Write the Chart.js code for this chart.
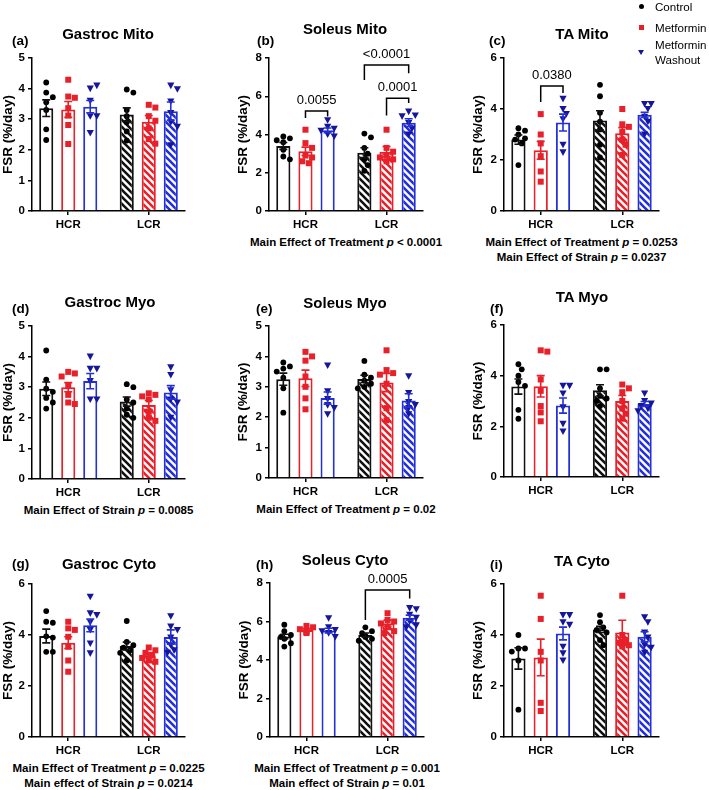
<!DOCTYPE html>
<html><head><meta charset="utf-8">
<script src="https://cdn.jsdelivr.net/npm/chart.js@4.4.0/dist/chart.umd.min.js"></script>
<style>
body{margin:0;background:#fff;width:709px;height:790px;position:relative;overflow:hidden;font-family:"Liberation Sans",Arial,Helvetica,sans-serif;color:#000;}
canvas{position:absolute;}
.t{position:absolute;font-weight:bold;font-size:15px;white-space:nowrap;transform:translate(-50%,-50%);}
.lt{position:absolute;font-weight:bold;font-size:13.5px;white-space:nowrap;transform:translateY(-50%);}
.fn{position:absolute;font-weight:bold;font-size:11.5px;white-space:nowrap;transform:translate(-50%,-50%);}
.lg{position:absolute;font-size:11.6px;line-height:15px;white-space:nowrap;}
.mk{position:absolute;}
</style></head><body>
<script>
const groups = ['HCR', 'LCR'];
const treatments = ['Control', 'Metformin', 'Metformin Washout'];

// means / SEM indexed [treatment][group]; points [treatment][group][]
const meansA = [[3.36, 3.15], [3.32, 2.92], [3.41, 3.26]];
const semA = [[0.27, 0.22], [0.26, 0.2], [0.2, 0.3]];
const ptsA = [
  [[4.2, 3.87, 3.72, 3.55, 3.3, 2.67, 2.32], [3.97, 3.87, 3.3, 3.1, 2.9, 2.6, 2.3]],
  [[4.29, 3.74, 3.7, 3.36, 3.12, 2.81, 2.19], [3.47, 3.38, 3.1, 2.95, 2.7, 2.35, 2.2]],
  [[4.0, 4.1, 3.6, 3.1, 3.1, 2.55], [4.1, 3.98, 3.58, 3.2, 2.9, 2.75, 2.15]]
];
const meansB = [[3.4, 3.05], [3.12, 3.1], [4.22, 4.62]];
const semB = [[0.18, 0.26], [0.22, 0.27], [0.12, 0.2]];
const ptsB = [
  [[3.9, 3.8, 3.7, 3.6, 3.2, 2.85, 2.7], [4.05, 3.85, 3.3, 3.0, 2.7, 2.4, 2.1]],
  [[4.25, 3.55, 3.3, 2.9, 2.8, 2.6, 2.5], [4.25, 3.3, 3.1, 2.9, 2.8, 2.7, 2.6]],
  [[4.75, 4.4, 4.3, 4.2, 4.0, 3.9], [5.2, 5.0, 4.95, 4.6, 4.3, 4.0]]
];
const meansC = [[2.8, 3.55], [2.38, 3.05], [3.47, 3.77]];
const semC = [[0.18, 0.38], [0.35, 0.22], [0.33, 0.1]];
const ptsC = [
  [[3.25, 3.15, 3.0, 2.85, 2.8, 2.65, 1.8], [4.95, 4.5, 3.85, 3.5, 3.2, 2.6, 2.1]],
  [[3.8, 3.0, 2.65, 2.15, 1.55, 1.15], [4.0, 3.4, 3.3, 3.1, 2.8, 2.6, 2.2]],
  [[4.4, 4.0, 3.8, 3.6, 2.6, 2.3], [4.2, 4.2, 4.0, 3.7, 3.5, 3.0]]
];
const meansD = [[2.95, 2.53], [3.0, 2.42], [3.2, 2.83]];
const semD = [[0.22, 0.15], [0.15, 0.15], [0.25, 0.22]];
const ptsD = [
  [[4.2, 3.25, 2.95, 2.85, 2.65, 2.5, 2.3], [3.1, 3.0, 2.6, 2.5, 2.3, 2.1, 2.0]],
  [[3.5, 3.45, 3.35, 3.05, 2.75, 2.5, 2.45], [2.8, 2.75, 2.7, 2.6, 2.2, 2.0, 1.9]],
  [[4.0, 3.6, 3.6, 3.2, 2.6, 2.6], [3.65, 3.4, 2.9, 2.6, 2.5, 2.0]]
];
const meansE = [[3.25, 3.26], [3.28, 3.14], [2.63, 2.55]];
const semE = [[0.2, 0.12], [0.27, 0.3], [0.2, 0.22]];
const ptsE = [
  [[3.8, 3.67, 3.6, 3.5, 3.3, 2.95, 2.15], [3.85, 3.4, 3.3, 3.2, 3.1, 3.0, 2.95]],
  [[4.15, 4.0, 3.86, 3.34, 3.0, 2.62, 2.26], [4.2, 3.55, 3.45, 3.4, 3.1, 2.3, 1.9]],
  [[3.7, 2.85, 2.6, 2.4, 2.3, 2.1], [3.35, 2.8, 2.5, 2.4, 2.3, 2.1]]
];
const meansF = [[3.57, 3.42], [3.58, 3.0], [2.82, 2.88]];
const semF = [[0.3, 0.22], [0.42, 0.22], [0.3, 0.1]];
const ptsF = [
  [[4.45, 4.25, 4.0, 3.75, 3.6, 2.65, 2.3], [4.25, 4.25, 3.5, 3.2, 3.1, 3.0, 2.8]],
  [[5.0, 4.95, 3.85, 3.4, 2.8, 2.55, 2.2], [3.65, 3.5, 3.35, 3.0, 2.7, 2.5, 2.3]],
  [[3.6, 3.6, 3.3, 2.75, 2.1, 1.8], [3.3, 3.0, 2.9, 2.8, 2.7, 2.6]]
];
const meansG = [[3.96, 3.57], [3.7, 3.21], [4.38, 3.92]];
const semG = [[0.27, 0.15], [0.23, 0.1], [0.25, 0.28]];
const ptsG = [
  [[4.94, 4.52, 4.48, 3.95, 3.9, 3.34, 3.34], [4.55, 3.73, 3.6, 3.5, 3.4, 3.3, 3.0]],
  [[4.52, 4.26, 4.2, 3.93, 3.54, 3.0, 2.56], [3.51, 3.4, 3.3, 3.2, 3.1, 3.0, 2.95]],
  [[5.5, 4.85, 4.78, 4.5, 4.2, 3.67, 3.28], [4.74, 4.33, 4.2, 3.9, 3.6, 3.4, 3.3]]
];
const meansH = [[5.22, 5.3], [5.56, 5.91], [5.53, 6.2]];
const semH = [[0.12, 0.1], [0.07, 0.16], [0.12, 0.13]];
const ptsH = [
  [[5.83, 5.5, 5.3, 5.2, 5.1, 4.87, 4.7], [5.7, 5.5, 5.4, 5.25, 5.2, 5.1, 5.0]],
  [[5.77, 5.7, 5.6, 5.5, 5.45, 5.4], [6.43, 6.08, 6.0, 5.9, 5.7, 5.5, 5.4]],
  [[6.17, 5.7, 5.56, 5.5, 5.4, 5.2], [6.7, 6.64, 6.35, 6.2, 6.0, 5.8, 5.7]]
];
const meansI = [[3.08, 4.22], [3.12, 4.1], [4.06, 3.93]];
const semI = [[0.42, 0.12], [0.72, 0.48], [0.25, 0.2]];
const ptsI = [
  [[4.0, 3.47, 3.47, 3.35, 3.0, 1.07], [4.78, 4.5, 4.3, 4.2, 4.1, 3.8, 3.6]],
  [[5.54, 4.63, 3.34, 3.0, 1.34, 1.02], [5.54, 4.0, 3.8, 3.7, 3.6, 3.55]],
  [[4.78, 4.78, 4.5, 4.4, 3.54, 3.28, 3.0], [4.7, 4.5, 4.1, 3.9, 3.6, 3.5, 3.3]]
];

const panelTitles = ['Gastroc Mito', 'Soleus Mito', 'TA Mito', 'Gastroc Myo', 'Soleus Myo', 'TA Myo', 'Gastroc Cyto', 'Soleus Cyto', 'TA Cyto'];
const panelLetters = ['(a)', '(b)', '(c)', '(d)', '(e)', '(f)', '(g)', '(h)', '(i)'];
const yMaxes = [5, 8, 6, 5, 5, 6, 6, 8, 6];
const yTickSteps = [1, 2, 2, 1, 1, 2, 2, 2, 2];
const footnotes = [
  [],
  ['Main Effect of Treatment p < 0.0001'],
  ['Main Effect of Treatment p = 0.0253', 'Main Effect of Strain p = 0.0237'],
  ['Main Effect of Strain p = 0.0085'],
  ['Main Effect of Treatment p = 0.02'],
  [],
  ['Main Effect of Treatment p = 0.0225', 'Main effect of Strain p = 0.0214'],
  ['Main Effect of Treatment p = 0.001', 'Main effect of Strain p = 0.01'],
  []
];
// brackets: panel index, [treatment, group] from / to, bracket height, left/right leg ends (data units), label
const bracketPanels = [1, 1, 1, 2, 7];
const bracketFrom = [[1, 0], [0, 1], [1, 1], [1, 0], [0, 1]];
const bracketTo = [[2, 0], [2, 1], [2, 1], [2, 0], [2, 1]];
const bracketY = [5.23, 7.63, 5.9, 4.9, 7.64];
const bracketLegL = [4.86, 6.85, 5.0, 4.27, 6.08];
const bracketLegR = [4.94, 7.2, 5.65, 4.63, 7.2];
const bracketLabels = ['0.0055', '<0.0001', '0.0001', '0.0380', '0.0005'];

const allMeans = [meansA, meansB, meansC, meansD, meansE, meansF, meansG, meansH, meansI];
const allSem = [semA, semB, semC, semD, semE, semF, semG, semH, semI];
const allPts = [ptsA, ptsB, ptsC, ptsD, ptsE, ptsF, ptsG, ptsH, ptsI];

// layout (pixel boxes of plot areas) and styles
const layoutBoxes = [
  [32, 58, 185, 211], [269, 58, 423, 211], [504, 58, 659, 211],
  [32, 326, 185, 479], [269, 326, 423, 478], [504, 325, 659, 477],
  [32, 584, 185, 737], [270, 583, 424, 737], [504, 584, 659, 737]
];
const titlePos = [[108, 33], [345, 28], [582, 33], [110, 301], [345, 302], [582, 296], [109, 563], [345, 559], [582, 560]];
const letterPos = [[12, 40], [257, 40], [489, 40], [12, 308], [256, 308], [490, 308], [12, 563], [256, 564], [490, 564]];
const FONT = '"Liberation Sans", Arial, Helvetica, sans-serif';
const barColors = ['#111111', '#e8202a', '#2330d8'];
const markerColors = ['#000000', '#e8202a', '#16169a'];

Chart.defaults.font.family = FONT;

function hatch(color) {
  const s = 7;
  const c = document.createElement('canvas');
  c.width = s; c.height = s;
  const g = c.getContext('2d');
  g.fillStyle = '#fff'; g.fillRect(0, 0, s, s);
  g.strokeStyle = color; g.lineWidth = 2.6;
  g.beginPath();
  for (const o of [-s, 0, s]) { g.moveTo(o - 2, -2); g.lineTo(o + s + 2, s + 2); }
  g.stroke();
  return g.createPattern(c, 'repeat');
}

function drawMarker(ctx, type, x, y) {
  ctx.fillStyle = markerColors[type];
  ctx.beginPath();
  if (type === 0) { ctx.arc(x, y, 2.9, 0, Math.PI * 2); }
  else if (type === 1) { ctx.rect(x - 3, y - 3, 6, 6); }
  else { ctx.moveTo(x - 3.6, y - 3); ctx.lineTo(x + 3.6, y - 3); ctx.lineTo(x, y + 3.6); ctx.closePath(); }
  ctx.fill();
}

function swarm(xc, ys, halfW, dia) {
  const placed = [];
  const cands = [0];
  for (let k = 1; k <= 4; k++) { cands.push(k * dia * 0.55, -k * dia * 0.55); }
  ys.forEach(y => {
    let best = null;
    for (const c of cands) {
      if (Math.abs(c) > halfW) continue;
      const x = xc + c;
      if (placed.every(p => Math.hypot(p[0] - x, p[1] - y) >= dia)) { best = x; break; }
    }
    if (best === null) best = xc;
    placed.push([best, y]);
  });
  return placed;
}

const overlayPlugin = {
  id: 'overlay',
  afterDatasetsDraw(chart) {
    const pi = chart.options.plugins.overlay.panel;
    const ctx = chart.ctx;
    const ys = chart.scales.y;
    const pts = allPts[pi], means = allMeans[pi], sem = allSem[pi];
    ctx.save();
    // scatter points
    for (let i = 0; i < 3; i++) {
      const meta = chart.getDatasetMeta(i);
      for (let j = 0; j < groups.length; j++) {
        const bar = meta.data[j];
        const py = pts[i][j].map(v => ys.getPixelForValue(v));
        const placed = swarm(bar.x, py, bar.width / 2, 6);
        placed.forEach(p => drawMarker(ctx, i, p[0], p[1]));
      }
    }
    // error bars
    for (let i = 0; i < 3; i++) {
      const meta = chart.getDatasetMeta(i);
      ctx.strokeStyle = barColors[i];
      ctx.lineWidth = 1.6;
      for (let j = 0; j < groups.length; j++) {
        const x = meta.data[j].x;
        const yt = ys.getPixelForValue(means[i][j] + sem[i][j]);
        const yb = ys.getPixelForValue(means[i][j] - sem[i][j]);
        ctx.beginPath();
        ctx.moveTo(x, yt); ctx.lineTo(x, yb);
        ctx.moveTo(x - 4, yt); ctx.lineTo(x + 4, yt);
        ctx.moveTo(x - 4, yb); ctx.lineTo(x + 4, yb);
        ctx.stroke();
      }
    }
    // significance brackets
    ctx.strokeStyle = '#000'; ctx.fillStyle = '#000'; ctx.lineWidth = 1.5;
    ctx.font = '13px ' + FONT; ctx.textAlign = 'center'; ctx.textBaseline = 'alphabetic';
    bracketPanels.forEach((bp, k) => {
      if (bp !== pi) return;
      const x1 = chart.getDatasetMeta(bracketFrom[k][0]).data[bracketFrom[k][1]].x;
      const x2 = chart.getDatasetMeta(bracketTo[k][0]).data[bracketTo[k][1]].x;
      const y = ys.getPixelForValue(bracketY[k]);
      const yl = ys.getPixelForValue(bracketLegL[k]);
      const yr = ys.getPixelForValue(bracketLegR[k]);
      ctx.beginPath();
      ctx.moveTo(x1, yl); ctx.lineTo(x1, y); ctx.lineTo(x2, y); ctx.lineTo(x2, yr);
      ctx.stroke();
      ctx.fillText(bracketLabels[k], (x1 + x2) / 2, y - 7);
    });
    ctx.restore();
  }
};

function makePanel(pi) {
  const [L, T, R, B] = layoutBoxes[pi];
  const yW = L < 100 ? 32 : 34;
  const padTop = 32, padR = 6, xH = 24;
  const w = R - L + yW + padR, h = B - T + padTop + xH;
  const cv = document.createElement('canvas');
  cv.width = w; cv.height = h;
  cv.style.left = (L - yW) + 'px'; cv.style.top = (T - padTop) + 'px';
  cv.style.width = w + 'px'; cv.style.height = h + 'px';
  document.body.appendChild(cv);
  const means = allMeans[pi];
  const datasets = treatments.map((t, i) => ({
    label: t,
    data: groups.map((g, j) => ({ x: j, y: means[i][j] })),
    backgroundColor: groups.map((g, j) => j === 0 ? '#ffffff' : hatch(barColors[i])),
    borderColor: barColors[i],
    borderWidth: 2,
    categoryPercentage: 0.82,
    barPercentage: 0.64
  }));
  const tickFont = { family: FONT, size: 11.5, weight: 'bold' };
  new Chart(cv, {
    type: 'bar',
    data: { datasets },
    options: {
      responsive: false, animation: false, devicePixelRatio: 1,
      layout: { padding: { top: padTop, right: padR, left: 0, bottom: 0 } },
      plugins: { legend: { display: false }, tooltip: { enabled: false }, overlay: { panel: pi } },
      scales: {
        x: {
          type: 'linear', min: -0.45, max: 1.45, offset: false, z: 1,
          afterBuildTicks: s => { s.ticks = groups.map((g, j) => ({ value: j })); },
          afterFit: s => { s.height = xH; },
          ticks: { callback: v => groups[Math.round(v)], font: tickFont, color: '#000', padding: 3, maxRotation: 0, autoSkip: false },
          grid: { drawOnChartArea: false, drawTicks: true, tickLength: 4, color: '#000', lineWidth: 1.5, offset: false },
          border: { color: '#000', width: 1.5 }
        },
        y: {
          min: 0, max: yMaxes[pi],
          afterFit: s => { s.width = yW; },
          ticks: { stepSize: yTickSteps[pi], font: tickFont, color: '#000', padding: 3 },
          grid: { drawOnChartArea: false, drawTicks: true, tickLength: 4, color: '#000', lineWidth: 1.5 },
          border: { color: '#000', width: 1.5 },
          title: { display: true, text: 'FSR (%/day)', color: '#000', padding: 0, font: { family: FONT, size: 13.5, weight: 'bold' } }
        }
      }
    },
    plugins: [overlayPlugin]
  });
}

function addDiv(cls, html, x, y) {
  const d = document.createElement('div');
  d.className = cls; d.innerHTML = html;
  d.style.left = x + 'px'; d.style.top = y + 'px';
  document.body.appendChild(d);
  return d;
}

for (let pi = 0; pi < 9; pi++) {
  makePanel(pi);
  addDiv('t', panelTitles[pi], titlePos[pi][0], titlePos[pi][1]);
  addDiv('lt', panelLetters[pi], letterPos[pi][0], letterPos[pi][1]);
  const [L, T, R, B] = layoutBoxes[pi];
  footnotes[pi].forEach((line, k) => {
    const html = line.replace(' p ', ' <i>p</i> ');
    addDiv('fn', html, (L + R) / 2, B + 31 + k * 15);
  });
}

// legend
const legendLines = [['Control'], ['Metformin'], ['Metformin', 'Washout']];
const legendY = [6, 27, 52];
legendLines.forEach((lines, i) => {
  addDiv('lg', lines.join('<br>'), 655, legendY[i] - lines.length * 7.5);
  const m = document.createElement('div');
  m.className = 'mk';
  if (i === 0) { m.style.cssText += 'width:5px;height:5px;border-radius:50%;background:' + markerColors[0] + ';left:638.5px;top:' + (legendY[i] - 2.5) + 'px;'; }
  else if (i === 1) { m.style.cssText += 'width:5px;height:5px;background:' + markerColors[1] + ';left:638.5px;top:' + (legendY[i] - 2.5) + 'px;'; }
  else { m.style.cssText += 'width:0;height:0;border-left:3px solid transparent;border-right:3px solid transparent;border-top:5px solid ' + markerColors[2] + ';left:638px;top:' + (legendY[i] - 2.5) + 'px;'; }
  document.body.appendChild(m);
});
</script>
</body></html>
